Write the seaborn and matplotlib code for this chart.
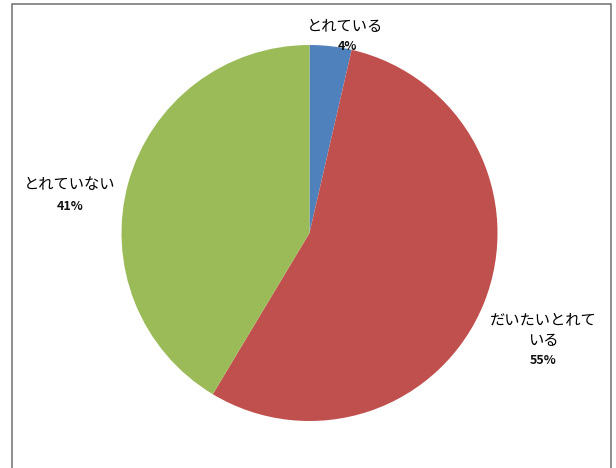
import matplotlib
matplotlib.use('Agg')
import matplotlib.pyplot as plt
import seaborn as sns
from matplotlib.patches import Rectangle

# Data
categories = ['とれている', 'だいたいとれて\nいる', 'とれていない']
shares = [3.6, 55.0, 41.4]
colors = ['#4F81BD', '#C0504D', '#9BBB59']

sns.set_style('white')
plt.rcParams['font.family'] = ['Noto Sans CJK JP', 'DejaVu Sans']

W, H = 616, 468
cx, cy, r = 309.5, 233, 188

fig = plt.figure(figsize=(W / 100, H / 100), dpi=100)
ax = fig.add_axes([0, 0, 1, 1])

ax.pie(
    shares,
    colors=colors,
    startangle=90,
    counterclock=False,
    radius=1,
    wedgeprops={'linewidth': 0},
)

ax.set_xlim(-cx / r, (W - cx) / r)
ax.set_ylim(-(H - cy) / r, cy / r)
ax.set_aspect('auto')
ax.axis('off')


def px(x, y):
    return (x - cx) / r, (cy - y) / r


# Labels (name + percent)
label_pos = [(345, 27), (543, 330), (70, 185)]
pct_pos = [(347, 47), (543, 360), (70, 207)]
for cat, val, lp, pp in zip(categories, shares, label_pos, pct_pos):
    ax.text(*px(*lp), cat, ha='center', va='center', fontsize=11,
            linespacing=1.3, color='black')
    ax.text(*px(*pp), f'{round(val):.0f}%', ha='center', va='center',
            fontsize=9, fontweight='bold', color='#111111')

# Outer frame
fig.patches.append(Rectangle((12 / W, -0.05), (611 - 12) / W, 1.05 - 4 / H,
                             transform=fig.transFigure, fill=False,
                             edgecolor='#6f6f6f', linewidth=1.1))

fig.savefig('out.png', dpi=100)
